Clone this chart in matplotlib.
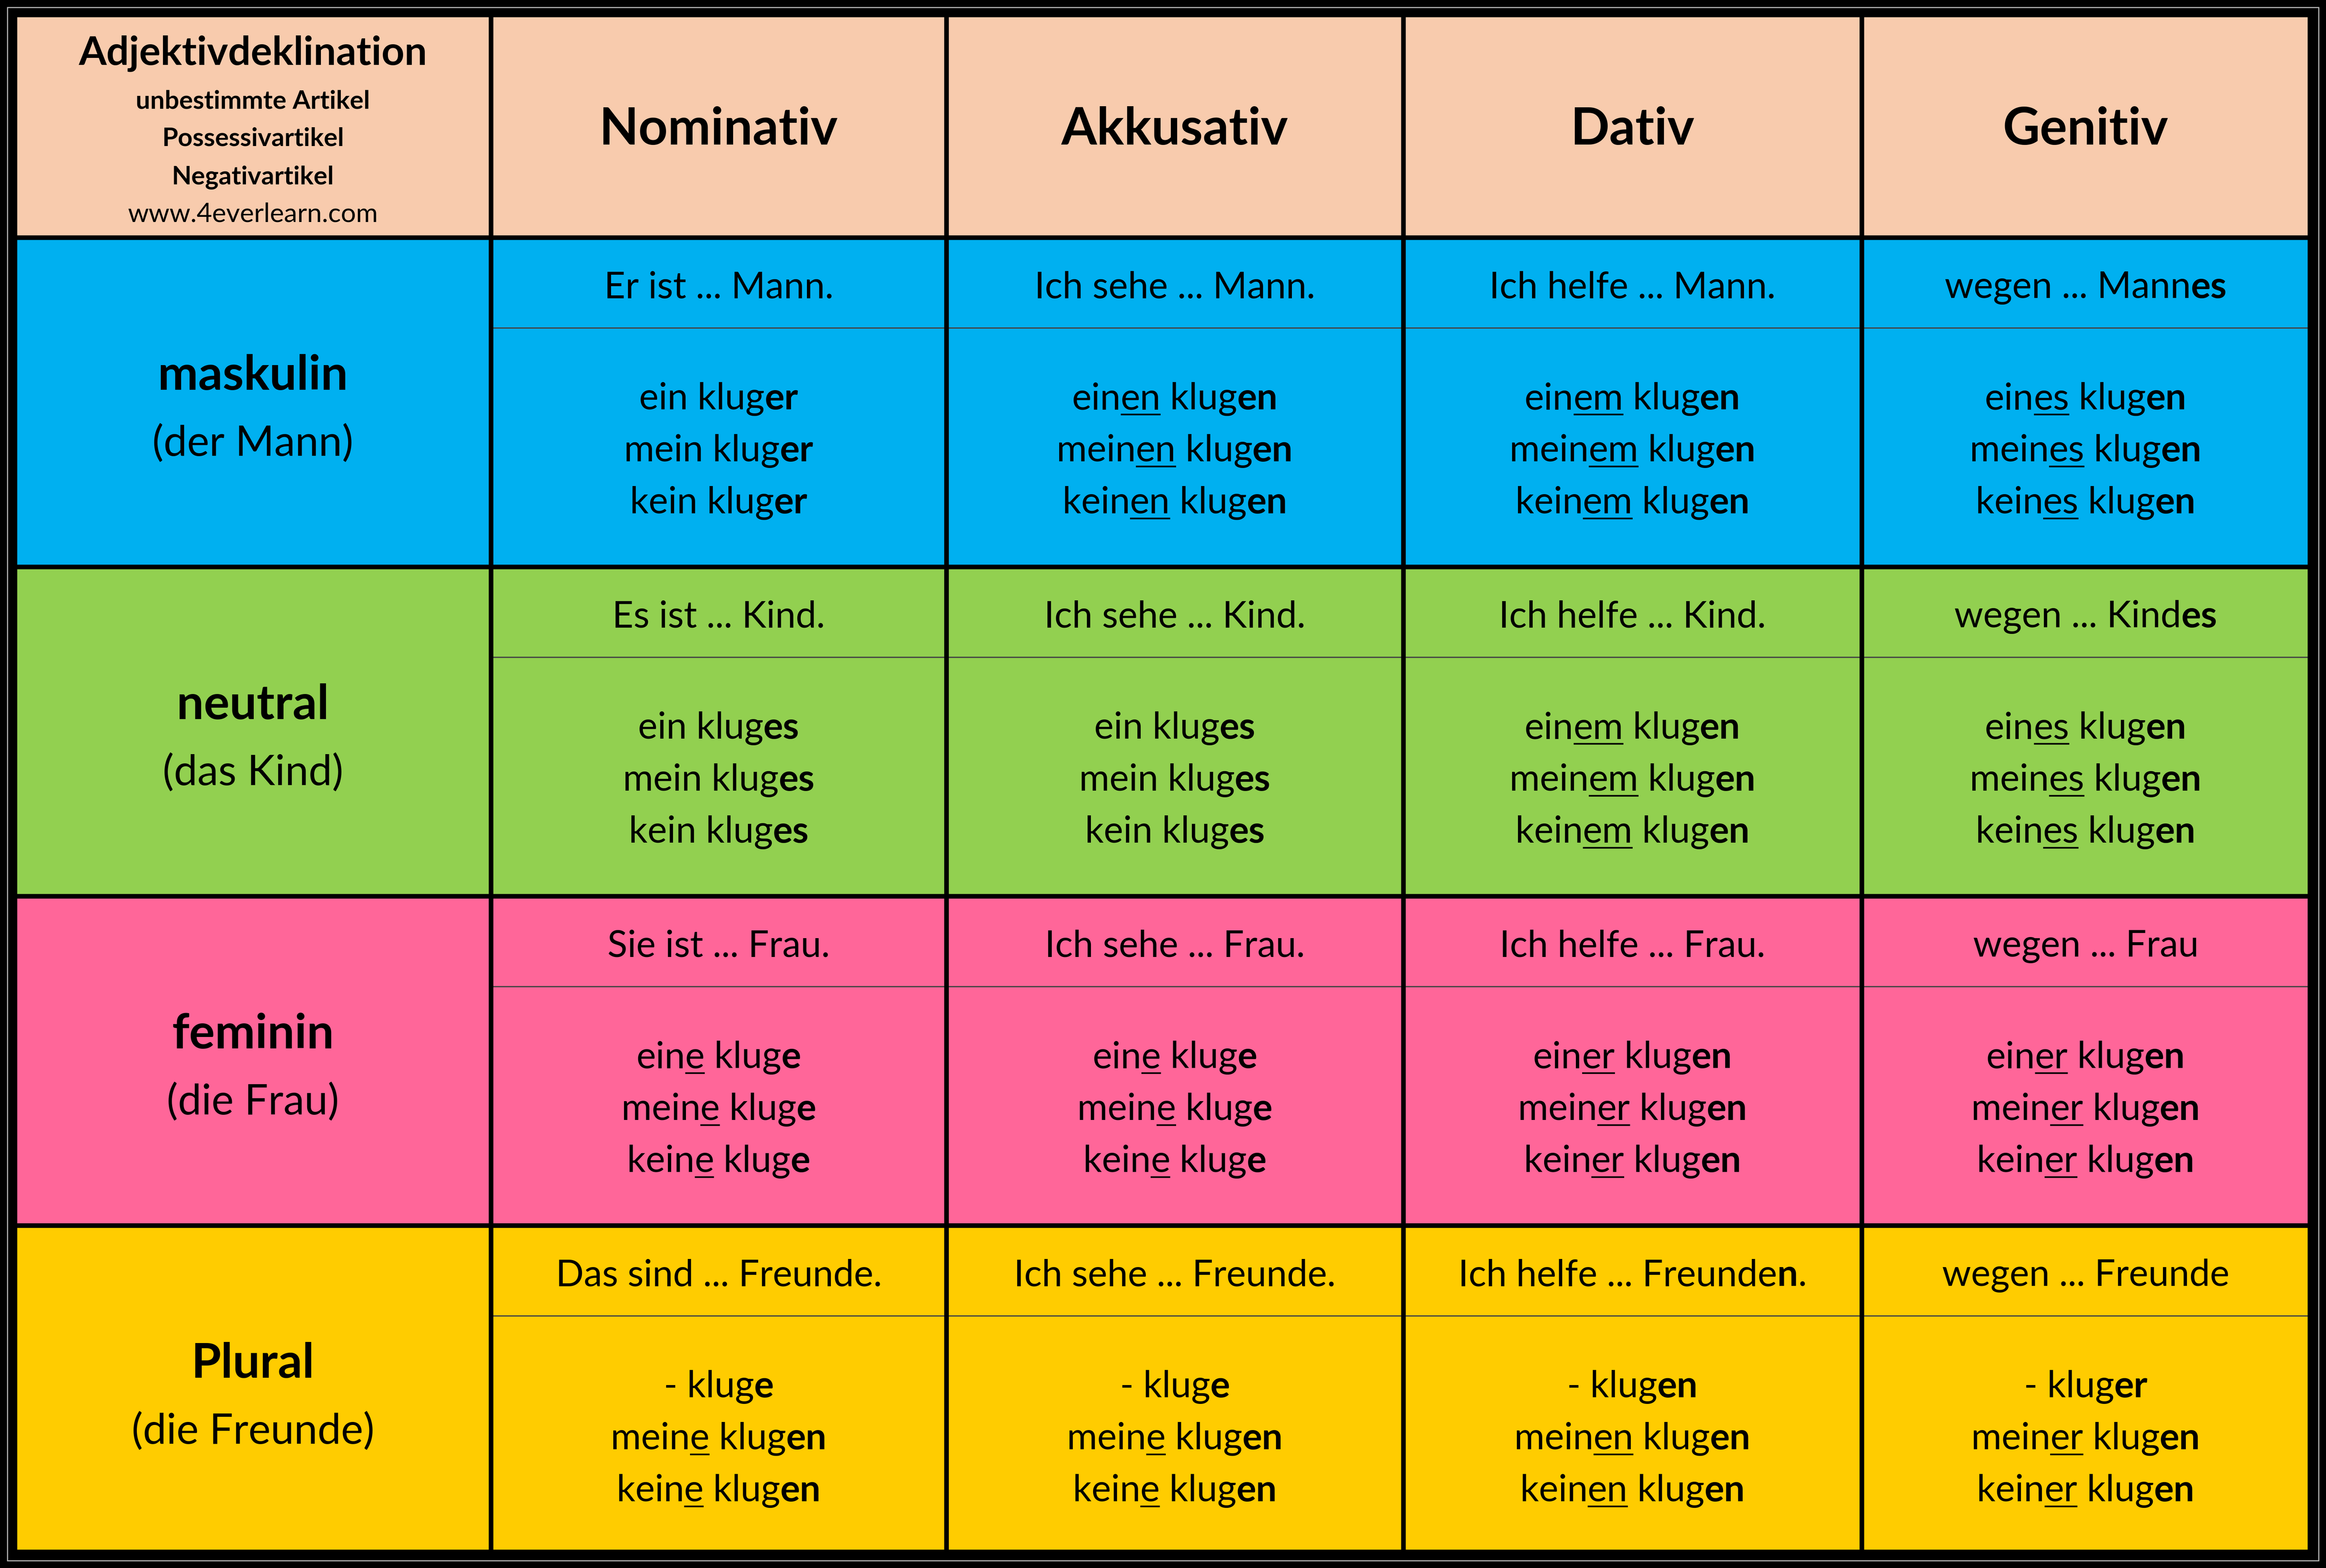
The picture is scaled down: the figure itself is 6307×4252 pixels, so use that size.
import matplotlib
matplotlib.use("Agg")
import matplotlib.pyplot as plt
from matplotlib.patches import Rectangle

FONT = "Lato"
W, H = 1568, 1057
S = 6307 / W  # px per unit
DPI = 100

cases = ["Nominativ", "Akkusativ", "Dativ", "Genitiv"]
genders = ["maskulin", "neutral", "feminin", "Plural"]
gender_sub = ["(der Mann)", "(das Kind)", "(die Frau)", "(die Freunde)"]
title_lines = ["Adjektivdeklination", "unbestimmte Artikel", "Possessivartikel", "Negativartikel", "www.4everlearn.com"]
row_colors = ["#00B0F0", "#92D050", "#FF6699", "#FFCC00"]
header_color = "#F8CBAD"

sentences = [
    ["Er ist ... Mann.", "Ich sehe ... Mann.", "Ich helfe ... Mann.", "wegen ... Mann*es*"],
    ["Es ist ... Kind.", "Ich sehe ... Kind.", "Ich helfe ... Kind.", "wegen ... Kind*es*"],
    ["Sie ist ... Frau.", "Ich sehe ... Frau.", "Ich helfe ... Frau.", "wegen ... Frau"],
    ["Das sind ... Freunde.", "Ich sehe ... Freunde.", "Ich helfe ... Freunde*n*.", "wegen ... Freunde"],
]
forms = [
    [["ein klug*er*", "mein klug*er*", "kein klug*er*"],
     ["ein_en_ klug*en*", "mein_en_ klug*en*", "kein_en_ klug*en*"],
     ["ein_em_ klug*en*", "mein_em_ klug*en*", "kein_em_ klug*en*"],
     ["ein_es_ klug*en*", "mein_es_ klug*en*", "kein_es_ klug*en*"]],
    [["ein klug*es*", "mein klug*es*", "kein klug*es*"],
     ["ein klug*es*", "mein klug*es*", "kein klug*es*"],
     ["ein_em_ klug*en*", "mein_em_ klug*en*", "kein_em_ klug*en*"],
     ["ein_es_ klug*en*", "mein_es_ klug*en*", "kein_es_ klug*en*"]],
    [["ein_e_ klug*e*", "mein_e_ klug*e*", "kein_e_ klug*e*"],
     ["ein_e_ klug*e*", "mein_e_ klug*e*", "kein_e_ klug*e*"],
     ["ein_er_ klug*en*", "mein_er_ klug*en*", "kein_er_ klug*en*"],
     ["ein_er_ klug*en*", "mein_er_ klug*en*", "kein_er_ klug*en*"]],
    [["- klug*e*", "mein_e_ klug*en*", "kein_e_ klug*en*"],
     ["- klug*e*", "mein_e_ klug*en*", "kein_e_ klug*en*"],
     ["- klug*en*", "mein_en_ klug*en*", "kein_en_ klug*en*"],
     ["- klug*er*", "mein_er_ klug*en*", "kein_er_ klug*en*"]],
]

col_x = [10, 331, 638, 946, 1255, 1557]
row_y = [10, 160, 382, 604, 826, 1046]

fig = plt.figure(figsize=(6307 / DPI, 4252 / DPI), dpi=DPI)
ax = fig.add_axes([0, 0, 1, 1])
ax.set_xlim(0, W)
ax.set_ylim(H, 0)
ax.axis("off")
fig.patch.set_facecolor("white")
renderer = fig.canvas.get_renderer()

def pt_units(pt):
    return pt * DPI / 72 / S

def measure(s, bold, size):
    def w(t):
        tt = ax.text(0, 0, t, fontsize=size, family=FONT, fontweight="bold" if bold else "normal")
        e = tt.get_window_extent(renderer).width
        tt.remove()
        return e
    return (w("|" + s + "|") - w("||")) / S

def parse(s):
    runs, cur, b, u = [], "", False, False
    for ch in s:
        if ch in "*_":
            if cur:
                runs.append((cur, b, u))
            cur = ""
            if ch == "*":
                b = not b
            else:
                u = not u
        else:
            cur += ch
    if cur:
        runs.append((cur, b, u))
    return runs

def draw_runs(xc, yc, s, size, allbold=False):
    runs = [(t, b or allbold, u) for t, b, u in parse(s)]
    widths = [measure(t, b, size) for t, b, u in runs]
    x = xc - sum(widths) / 2
    base = yc + 0.36 * pt_units(size)
    for (t, b, u), wd in zip(runs, widths):
        ax.text(x, base, t, fontsize=size, family=FONT, fontweight="bold" if b else "normal",
                ha="left", va="baseline")
        if u:
            ax.plot([x, x + wd], [base + 3.5, base + 3.5], color="black", lw=3.2, solid_capstyle="butt")
        x += wd

# backgrounds
ax.add_patch(Rectangle((0, 0), W, H, color="black"))
ax.add_patch(Rectangle((col_x[0], row_y[0]), col_x[-1] - col_x[0], row_y[1] - row_y[0], color=header_color))
for i, c in enumerate(row_colors):
    ax.add_patch(Rectangle((col_x[0], row_y[i + 1]), col_x[-1] - col_x[0], row_y[i + 2] - row_y[i + 1], color=c))
ax.add_patch(Rectangle((5, 5), W - 10, H - 10, fill=False, ec="#BBBBBB", lw=2))

# sub lines
for i in range(4):
    y = row_y[i + 1] + 61
    ax.plot([col_x[1], col_x[-1]], [y, y], color="#444444", lw=2.5)
# grid lines
for x in col_x:
    ax.plot([x, x], [row_y[0], row_y[-1]], color="black", lw=9)
for y in row_y:
    ax.plot([col_x[0], col_x[-1]], [y, y], color="black", lw=9)

# header
xc0 = (col_x[0] + col_x[1]) / 2
draw_runs(xc0, 34, title_lines[0], 78, allbold=True)
for k, y in enumerate([67, 92, 118]):
    draw_runs(xc0, y, title_lines[k + 1], 50, allbold=True)
draw_runs(xc0, 143, title_lines[4], 52)
for j, c in enumerate(cases):
    draw_runs((col_x[j + 1] + col_x[j + 2]) / 2, 85, c, 100, allbold=True)

for i in range(4):
    top = row_y[i + 1]
    draw_runs(xc0, top + 91, genders[i], 94, allbold=True)
    draw_runs(xc0, top + 137, gender_sub[i], 82)
    for j in range(4):
        xc = (col_x[j + 1] + col_x[j + 2]) / 2
        draw_runs(xc, top + 32, sentences[i][j], 72)
        for k, f in enumerate(forms[i][j]):
            draw_runs(xc, top + 107 + 35 * k, f, 72)

fig.savefig("out.png", dpi=DPI)
